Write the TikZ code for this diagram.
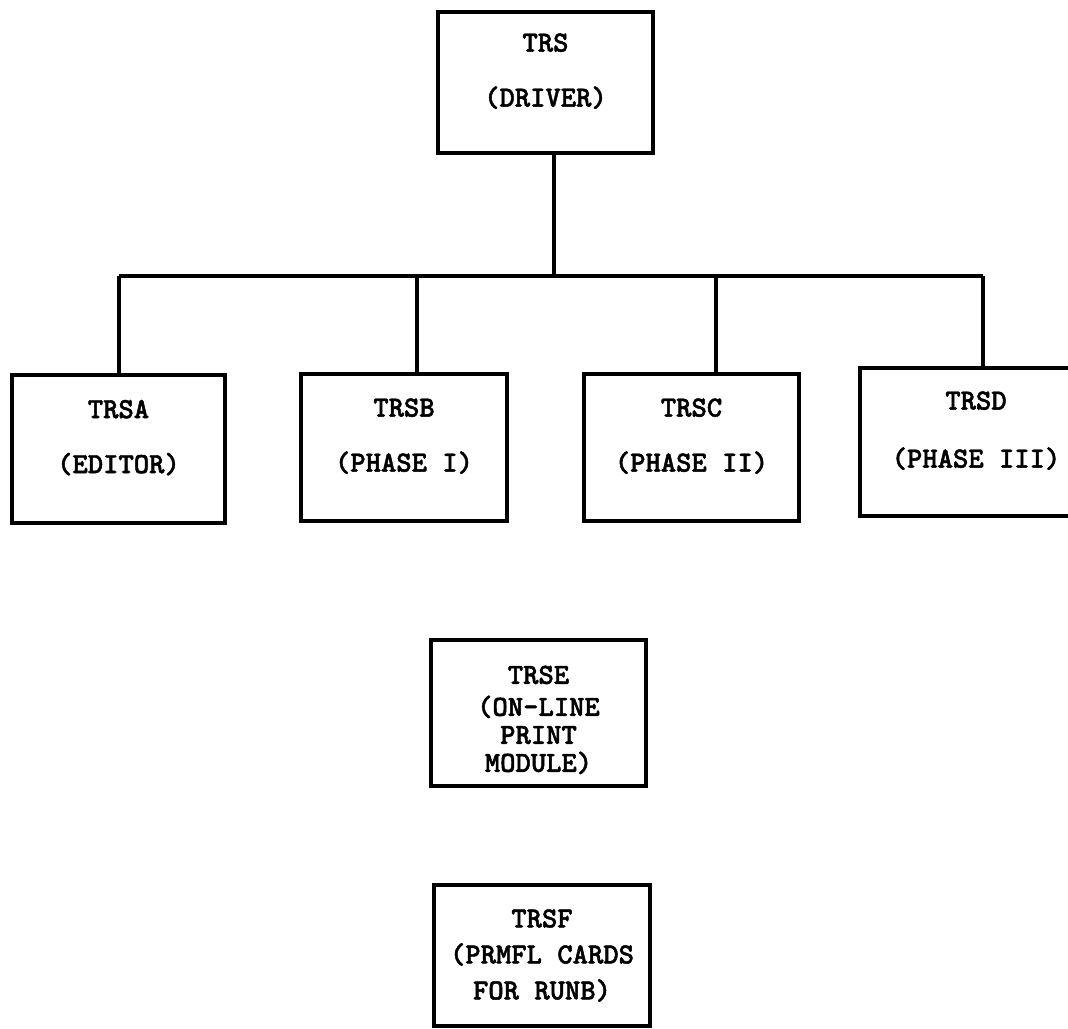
\documentclass[tikz,border=0pt]{standalone}
\usepackage{fontspec}
\newfontfamily\typewriter{lmmonolt10-bold.otf}[FakeBold=1.6]
\usepackage{tikz}
\usetikzlibrary{positioning}

% extra depth below the last line of a box
\newcommand{\lowstrut}{\rule[-25pt]{0pt}{25pt}}

\begin{document}
\begin{tikzpicture}[
        x=1pt, y=-1pt,
        module/.style={
            draw,
            line width=3.4pt,
            align=center,
            inner sep=0pt,
            font=\fontsize{29.2}{34}\selectfont\typewriter
        },
        link/.style={line width=3.2pt}
    ]
        \useasboundingbox (0,0) rectangle (1068,1028);
        \clip (0,0) rectangle (1068,1028);

        \node[module, minimum width=215pt, minimum height=141pt] (trs) at (545.5,82.5) {TRS\\[21pt](DRIVER)\lowstrut};

        \node[module, minimum width=213pt, minimum height=148pt] (trsa) at (118.5,449) {TRSA\\[21pt](EDITOR)\lowstrut};
        \node[module, minimum width=206pt, minimum height=147pt] (trsb) at (404,447.5) {TRSB\\[21pt](PHASE I)\lowstrut};
        \node[module, minimum width=215pt, minimum height=147pt] (trsc) at (691.5,447.5) {TRSC\\[21pt](PHASE II)\lowstrut};
        \node[module, minimum width=232pt, minimum height=148pt] (trsd) at (976,442) {TRSD\\[24pt](PHASE III)\lowstrut};

        \node[module, minimum width=215pt, minimum height=146pt] (trse) at (538.5,713) {\rule{0pt}{32pt}TRSE\\[-2pt](ON-LINE\\[-6pt]PRINT\\[-6pt]MODULE)};
        \node[module, minimum width=216pt, minimum height=141pt] (trsf) at (542,955.5) {TRSF\\[2pt](PRMFL CARDS\\[2pt]FOR RUNB)};

        % bus and drop points
        \coordinate (bus) at (554,276);
        \coordinate (jtrsa) at (119,276);
        \coordinate (jtrsb) at (417,276);
        \coordinate (jtrsc) at (716,276);
        \coordinate (jtrsd) at (983,276);

        \draw[link] (trs.south -| bus) -- (bus);
        \draw[link] (jtrsa) -- (jtrsd);
        \foreach \child in {trsa,trsb,trsc,trsd} {
            \draw[link] (j\child) -- (j\child |- \child.north);
        }
    \end{tikzpicture}
\end{document}
